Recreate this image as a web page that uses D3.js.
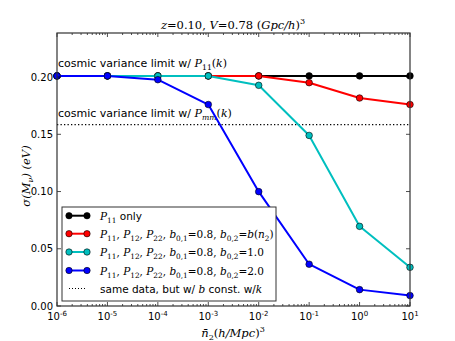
<!DOCTYPE html>
<html><head><meta charset="utf-8">
<script src="https://cdn.jsdelivr.net/npm/d3@7"></script>
<style>body{margin:0;background:#fff}svg{display:block}</style>
</head><body><svg id="c" width="455" height="341"></svg>
<script>
const nbar = [1e-6, 1e-5, 1e-4, 1e-3, 1e-2, 1e-1, 1e0, 1e1];
const p11Only = [0.201, 0.201, 0.201, 0.201, 0.201, 0.201, 0.201, 0.201];
const bOfN = [0.201, 0.201, 0.201, 0.201, 0.201, 0.1951, 0.1817, 0.1760];
const b10 = [0.201, 0.201, 0.201, 0.201, 0.1928, 0.1490, 0.0696, 0.0338];
const b20 = [0.201, 0.201, 0.1977, 0.1760, 0.0999, 0.0365, 0.0143, 0.0091];
const cvP11 = 0.201;
const cvPmm = 0.1585;
const yTicks = [0.00, 0.05, 0.10, 0.15, 0.20];
const xTickExp = [-6, -5, -4, -3, -2, -1, 0, 1];
const seriesColors = ["#000000", "#ff0000", "#00bfbf", "#0000ff"];

const svg = d3.select("#c");
const L = 57, R = 410, T = 33, B = 306;
const x = d3.scaleLog().domain([1e-6, 1e1]).range([L, R]);
const y = d3.scaleLinear().domain([0, 0.2385]).range([B, T]);
const SANS = "DejaVu Sans, sans-serif";
const SERIF = "DejaVu Serif, Liberation Serif, serif";

function mtext(sel, segs, size) {
  let shift = 0;
  segs.forEach(([t, st]) => {
    const ts = sel.append("tspan").text(t).attr("font-size", size);
    let dy = 0;
    if (st === "sub" || st === "subr") {
      ts.attr("font-size", size * 0.7).attr("font-family", SERIF)
        .attr("font-style", st === "sub" ? "italic" : "normal");
      dy = size * 0.3;
    } else if (st === "sup" || st === "supr") {
      ts.attr("font-size", size * 0.7).attr("font-family", st === "supr" ? SANS : SERIF);
      dy = -size * 0.4;
    } else if (st === "i") {
      ts.attr("font-family", SERIF).attr("font-style", "italic");
    } else if (st === "r") {
      ts.attr("font-family", SERIF).attr("font-style", "normal");
    } else {
      ts.attr("font-family", SANS).attr("font-style", "normal");
    }
    ts.attr("dy", dy - shift);
    shift = dy;
  });
}

// title
mtext(svg.append("text").attr("x", 233).attr("y", 29).attr("text-anchor", "middle").attr("font-size", 11.5),
  [["z", "i"], ["=0.10, ", "r"], ["V", "i"], ["=0.78 (", "r"], ["Gpc/h", "i"], [")", "r"], ["3", "sup"]], 11.5);

// cosmic variance lines
svg.append("line").attr("x1", L).attr("x2", R).attr("y1", y(cvPmm)).attr("y2", y(cvPmm))
  .attr("stroke", "#000").attr("stroke-width", 1.3).attr("stroke-dasharray", "1.3,2.2");

mtext(svg.append("text").attr("x", 58).attr("y", 67).attr("font-size", 11),
  [["cosmic variance limit w/ ", "s"], ["P", "i"], ["11", "subr"], ["(", "r"], ["k", "i"], [")", "r"]], 11);
mtext(svg.append("text").attr("x", 58).attr("y", 117).attr("font-size", 11),
  [["cosmic variance limit w/ ", "s"], ["P", "i"], ["mm", "sub"], ["(", "r"], ["k", "i"], [")", "r"]], 11);

// series
const allSeries = [p11Only, bOfN, b10, b20];
const line = d3.line().x((d, i) => x(nbar[i])).y(d => y(d));
const g = svg.append("g");
allSeries.forEach((s, k) => {
  g.append("path").datum(s).attr("d", line).attr("fill", "none")
    .attr("stroke", seriesColors[k]).attr("stroke-width", 2).attr("stroke-linejoin", "round");
  g.selectAll(null).data(s).enter().append("circle")
    .attr("cx", (d, i) => x(nbar[i])).attr("cy", d => y(d)).attr("r", 3.3)
    .attr("fill", seriesColors[k]).attr("stroke", "#000").attr("stroke-width", 0.6);
});

// ticks (inward) on all sides
const tk = svg.append("g").attr("stroke", "#000").attr("stroke-width", 0.7);
for (let e = -6; e <= 1; e++) {
  const xv = x(Math.pow(10, e));
  tk.append("line").attr("x1", xv).attr("x2", xv).attr("y1", B).attr("y2", B - 4);
  tk.append("line").attr("x1", xv).attr("x2", xv).attr("y1", T).attr("y2", T + 4);
  if (e < 1) for (let m = 2; m <= 9; m++) {
    const xm = x(m * Math.pow(10, e));
    tk.append("line").attr("x1", xm).attr("x2", xm).attr("y1", B).attr("y2", B - 2);
    tk.append("line").attr("x1", xm).attr("x2", xm).attr("y1", T).attr("y2", T + 2);
  }
}
yTicks.forEach(v => {
  tk.append("line").attr("x1", L).attr("x2", L + 4).attr("y1", y(v)).attr("y2", y(v));
  tk.append("line").attr("x1", R).attr("x2", R - 4).attr("y1", y(v)).attr("y2", y(v));
});

// frame
svg.append("rect").attr("x", L).attr("y", T).attr("width", R - L).attr("height", B - T)
  .attr("fill", "none").attr("stroke", "#333").attr("stroke-width", 1.2);

// y tick labels
yTicks.forEach(v => {
  svg.append("text").attr("x", L - 4).attr("y", y(v) + 3.5).attr("text-anchor", "end")
    .attr("font-family", SANS).attr("font-size", 10).text(d3.format(".2f")(v));
});
// x tick labels
xTickExp.forEach(e => {
  const t = svg.append("text").attr("x", x(Math.pow(10, e))).attr("y", 320).attr("text-anchor", "middle")
    .attr("font-size", 10);
  mtext(t, [["10", "s"], [(e < 0 ? "-" : "") + Math.abs(e), "supr"]], 10);
});

// axis labels
mtext(svg.append("text").attr("x", 233).attr("y", 337).attr("text-anchor", "middle").attr("font-size", 11.5),
  [["n\u0304", "i"], ["2", "subr"], ["(", "r"], ["h/Mpc", "i"], [")", "r"], ["3", "sup"]], 11.5);
mtext(svg.append("text").attr("transform", "translate(30,176) rotate(-90)").attr("text-anchor", "middle").attr("font-size", 11.5),
  [["\u03c3(", "i"], ["M", "i"], ["\u03bd", "sub"], [")  (eV)", "i"]], 11.5);

// legend
const lg = svg.append("g");
lg.append("rect").attr("x", 62).attr("y", 207).attr("width", 214).attr("height", 94)
  .attr("fill", "#fff").attr("stroke", "#333").attr("stroke-width", 1);
const legendLabels = [
  [["P", "i"], ["11", "subr"], [" only", "s"]],
  [["P", "i"], ["11", "subr"], [", ", "r"], ["P", "i"], ["12", "subr"], [", ", "r"], ["P", "i"], ["22", "subr"], [", ", "r"], ["b", "i"], ["0,1", "subr"], ["=0.8, ", "r"], ["b", "i"], ["0,2", "subr"], ["=", "r"], ["b", "i"], ["(", "r"], ["n", "i"], ["2", "subr"], [")", "r"]],
  [["P", "i"], ["11", "subr"], [", ", "r"], ["P", "i"], ["12", "subr"], [", ", "r"], ["P", "i"], ["22", "subr"], [", ", "r"], ["b", "i"], ["0,1", "subr"], ["=0.8, ", "r"], ["b", "i"], ["0,2", "subr"], ["=1.0", "r"]],
  [["P", "i"], ["11", "subr"], [", ", "r"], ["P", "i"], ["12", "subr"], [", ", "r"], ["P", "i"], ["22", "subr"], [", ", "r"], ["b", "i"], ["0,1", "subr"], ["=0.8, ", "r"], ["b", "i"], ["0,2", "subr"], ["=2.0", "r"]],
  [["same data, but w/ ", "s"], ["b", "i"], [" const. w/", "s"], ["k", "i"]]
];
const rowsY = [215.7, 233.7, 252, 270.5, 288.5];
legendLabels.forEach((lab, i) => {
  const yy = rowsY[i];
  if (i < 4) {
    lg.append("line").attr("x1", 69).attr("x2", 87).attr("y1", yy).attr("y2", yy)
      .attr("stroke", seriesColors[i]).attr("stroke-width", 2);
    [69, 87].forEach(cx => lg.append("circle").attr("cx", cx).attr("cy", yy).attr("r", 3.2)
      .attr("fill", seriesColors[i]).attr("stroke", "#000").attr("stroke-width", 0.6));
  } else {
    lg.append("line").attr("x1", 69).attr("x2", 87).attr("y1", yy).attr("y2", yy)
      .attr("stroke", "#000").attr("stroke-width", 1).attr("stroke-dasharray", "1,2");
  }
  mtext(lg.append("text").attr("x", 100).attr("y", yy + 4).attr("font-size", 10.5), lab, 10.5);
});
</script></body></html>
